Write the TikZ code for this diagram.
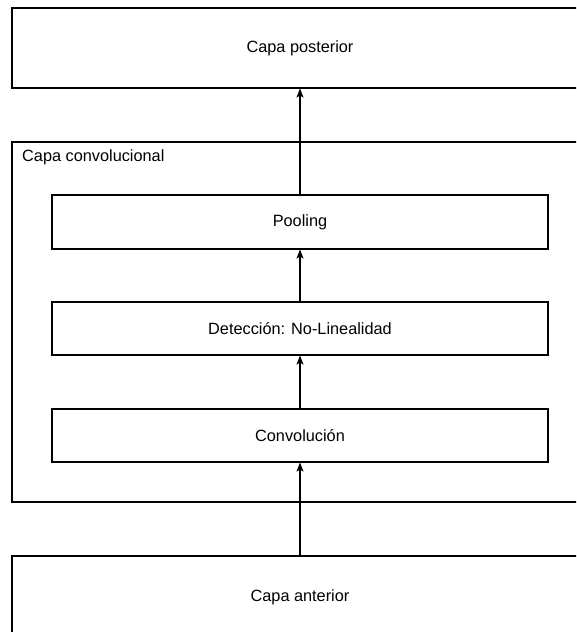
\documentclass[tikz,border=0pt]{standalone}
\usepackage{fontspec}
\setmainfont{Liberation Sans}
\usetikzlibrary{arrows.meta}

\begin{document}
\begin{tikzpicture}[x=1pt, y=-1pt,
  capa/.style={draw, line width=1.1pt, inner sep=0pt, minimum width=576pt},
  etapa/.style={draw, line width=1.1pt, inner sep=0pt, minimum width=496pt},
  flecha/.style={line width=1.1pt, -{Stealth[length=9pt, width=7pt, inset=2pt]}}]
\tikzstyle{every node}+=[font=\fontsize{16.3}{19}\selectfont]
\useasboundingbox (0,0) rectangle (576,632);
\clip (0,0) rectangle (576,632);
% capas exterior
\node [capa, minimum height=80pt] (post) at (300,48) {Capa posterior};
\node [capa, minimum height=360pt] (conv) at (300,322) {};
\node [anchor=north west, inner sep=0pt] (convlabel) at (22,149) {Capa convolucional};
\node [capa, minimum height=82pt] (ant) at (300,597) {Capa anterior};
% etapas de la capa convolucional
\node [etapa, minimum height=54pt] (pool) at (300,222) {Pooling};
\node [etapa, minimum height=53pt] (detec) at (300,328.5) {Detección: No-Linealidad};
\node [etapa, minimum height=53pt] (convo) at (300,435.5) {Convolución};
% flechas
\draw [flecha] (ant.north) -- (convo.south);
\draw [flecha] (convo.north) -- (detec.south);
\draw [flecha] (detec.north) -- (pool.south);
\draw [flecha] (pool.north) -- (post.south);
\end{tikzpicture}
\end{document}
